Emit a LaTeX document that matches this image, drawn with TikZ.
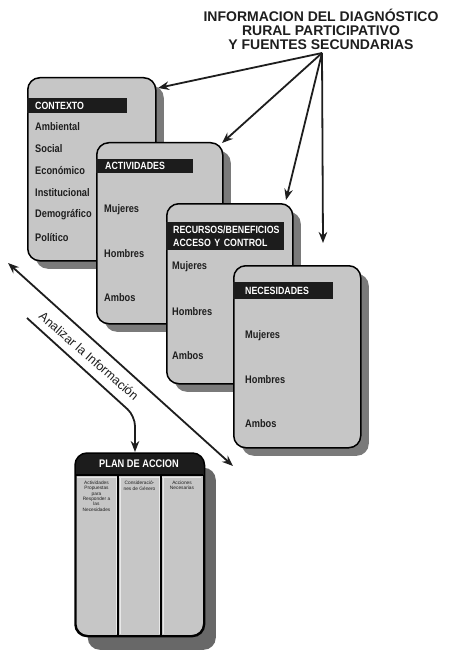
\documentclass[tikz,border=0pt]{standalone}
\usepackage{fontspec}
\setmainfont{Liberation Sans}
\newfontfamily\nb[FakeStretch=0.84]{Liberation Sans}
\usetikzlibrary{arrows.meta,shadows,calc}
\definecolor{cardc}{RGB}{198,198,198}
\definecolor{shadc}{RGB}{122,122,122}
\definecolor{hdrc}{RGB}{28,28,28}
\definecolor{inkc}{RGB}{30,30,30}
\begin{document}
\begin{tikzpicture}[x=1pt,y=-1pt,
  cardbase/.style={draw=black, line width=1.5pt, fill=cardc, rounded corners=12pt, anchor=north west, inner sep=0pt},
  card/.style={cardbase, drop shadow={shadow xshift=8pt, shadow yshift=-8pt, opacity=1, fill=shadc}},
  hdr/.style={fill=hdrc, text=white, font=\nb\bfseries\fontsize{10.5}{12}\selectfont, anchor=north west, inner ysep=0pt, align=left},
  item/.style={text=inkc, font=\nb\bfseries\fontsize{11}{13}\selectfont, anchor=west, inner sep=0pt},
  coltxt/.style={text=inkc, font=\fontsize{4.8}{5.3}\selectfont, anchor=north, inner sep=0pt, align=center},
  arr/.style={draw=inkc, line width=1.8pt, -{Stealth[length=11pt,width=8.5pt]}},
  darr/.style={draw=inkc, line width=1.8pt, {Stealth[length=11pt,width=8.5pt]}-{Stealth[length=11pt,width=8.5pt]}}
]
\useasboundingbox (0,0) rectangle (450,655);
\fill[white] (0,0) rectangle (450,655);

% title
\node[text=inkc, font=\bfseries\fontsize{14}{14}\selectfont, align=center, inner sep=0pt] (title) at (321,29)
  {INFORMACION DEL DIAGNÓSTICO\\RURAL PARTICIPATIVO\\Y FUENTES SECUNDARIAS};

% CONTEXTO
\node[card, minimum width=128pt, minimum height=183pt] (ctx) at (27,77) {};
\node[hdr, minimum height=15pt, inner xsep=8pt, text width=84pt] (ctxh) at (27,98) {CONTEXTO};
\node[item] (c1) at (35,127) {Ambiental};
\node[item] (c2) at (35,149) {Social};
\node[item] (c3) at (35,171) {Económico};
\node[item] (c4) at (35,193) {Institucional};
\node[item] (c5) at (35,215) {Demográfico};
\node[item] (c6) at (35,238) {Político};

% ACTIVIDADES
\node[card, minimum width=126pt, minimum height=181pt] (act) at (96,142) {};
\node[hdr, minimum height=14pt, inner xsep=9pt, text width=79pt] (acth) at (96,159) {ACTIVIDADES};
\node[item] (a1) at (104,210) {Mujeres};
\node[item] (a2) at (104,254) {Hombres};
\node[item] (a3) at (104,298) {Ambos};

% RECURSOS
\node[card, minimum width=126pt, minimum height=180pt] (rec) at (166,203) {};
\node[hdr, minimum height=28pt, inner xsep=7pt, text width=104pt, font=\nb\bfseries\fontsize{10.5}{13}\selectfont] (rech) at (166,222) {RECURSOS/BENEFICIOS\\ACCESO Y CONTROL};
\node[item] (r1) at (172,267) {Mujeres};
\node[item] (r2) at (172,312) {Hombres};
\node[item] (r3) at (172,356) {Ambos};

% NECESIDADES
\node[card, minimum width=127pt, minimum height=182pt] (nec) at (233,265) {};
\node[hdr, minimum height=17pt, inner xsep=12pt, text width=76pt] (nech) at (233,282) {NECESIDADES};
\node[item] (n1) at (245,336) {Mujeres};
\node[item] (n2) at (245,380) {Hombres};
\node[item] (n3) at (245,424) {Ambos};

% PLAN DE ACCION
\node[cardbase, drop shadow={shadow xshift=12pt, shadow yshift=-14pt, opacity=1, fill=shadc!85!black}, minimum width=128pt, minimum height=182pt] (plan) at (75,453) {};
\begin{scope}
  \clip[rounded corners=12pt] (plan.north west) rectangle (plan.south east);
  \fill[hdrc] (plan.north west) rectangle ($(plan.north east)+(0,22)$);
\end{scope}
\draw[line width=1.5pt, rounded corners=12pt] (plan.north west) rectangle (plan.south east);
\draw[line width=1.2pt] (75,475) -- (203,475);
\draw[cardc!40!white, line width=0.5pt] (77,477) -- (201,477);
\draw[line width=1.2pt] (118,475) -- (118,635);
\draw[line width=1.2pt] (161,475) -- (161,635);
\draw[cardc!40!white, line width=0.5pt] (116.2,477) -- (116.2,634) (119.8,477) -- (119.8,634)
  (159.2,477) -- (159.2,634) (162.8,477) -- (162.8,634);
\node[text=white, font=\nb\bfseries\fontsize{11}{13}\selectfont, inner sep=0pt] (plant) at (139,464) {PLAN DE ACCION};
\node[coltxt] (p1) at (96.5,481) {Actividades\\Propuestas\\para\\Responder a\\las\\Necesidades};
\node[coltxt] (p2) at (139.5,481) {Consideració-\\nes de Género};
\node[coltxt] (p3) at (182,481) {Acciones\\Necesarias};

% arrows from title
\coordinate (src) at (322,53);
\coordinate (t1) at (158,88);
\coordinate (t2) at (222,143);
\coordinate (t3) at (286,200);
\coordinate (t4) at (323,243);
\draw[arr] (src) -- (t1);
\draw[arr] (src) -- (t2);
\draw[arr] (src) -- (t3);
\draw[arr] (src) -- (t4);

% analysis arrows
\coordinate (d1) at (8,263);
\coordinate (d2) at (233,466);
\draw[darr] (d1) -- (d2);
\coordinate (b1) at (27,318);
\coordinate (b2) at (135,416);
\coordinate (b3) at (135,452);
\draw[arr, rounded corners=10pt] (b1) -- (b2) -- (b3);
\node[rotate=-41, text=inkc, font=\fontsize{12.5}{14}\selectfont, inner sep=0pt] (anl) at (89,356) {Analizar la Información};
\end{tikzpicture}
\end{document}
